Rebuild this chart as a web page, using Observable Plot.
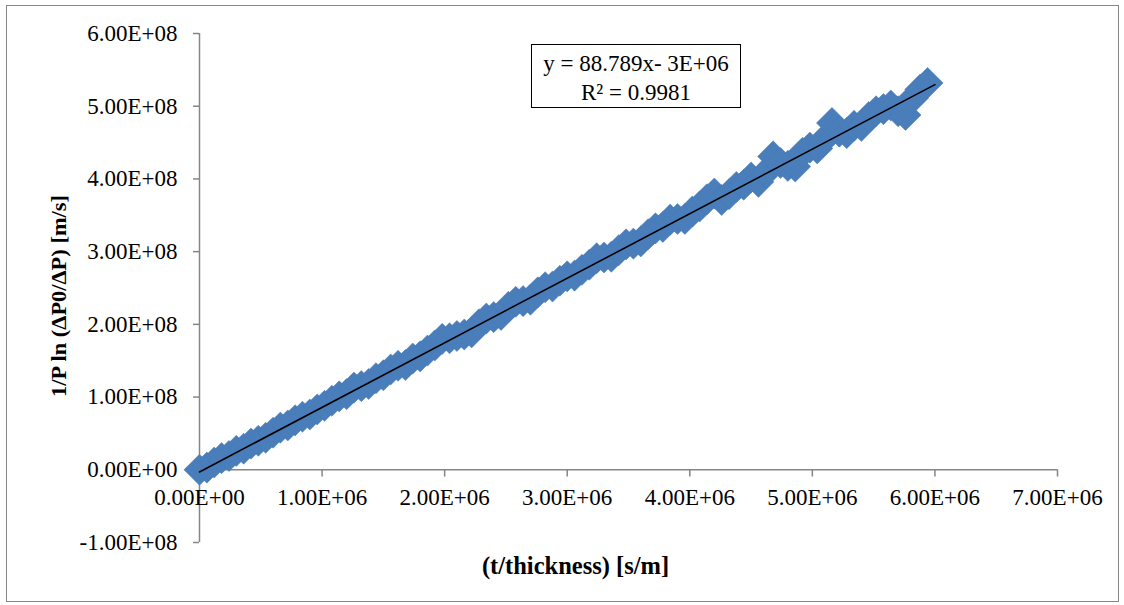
<!DOCTYPE html>
<html>
<head>
<meta charset="utf-8">
<script src="https://cdn.jsdelivr.net/npm/d3@7"></script>
<script src="https://cdn.jsdelivr.net/npm/@observablehq/plot@0.6"></script>
<style>
  html, body { margin: 0; padding: 0; background: #fff; }
  #wrap { position: relative; width: 1124px; height: 605px; font-family: "Liberation Serif", "Times New Roman", serif; }
  #outer { position: absolute; left: 6px; top: 5px; width: 1113px; height: 597px; border: 1.3px solid #878787; box-sizing: border-box; pointer-events: none; }
  #eq { position: absolute; left: 531px; top: 44px; width: 210px; height: 64px; box-sizing: border-box; border: 1.6px solid #000; background: #fff;
        font-size: 23px; line-height: 29px; text-align: center; padding-top: 4px; color: #000; }
</style>
</head>
<body>
<div id="wrap">
  <div id="outer"></div>
  <div id="chart"></div>
  <div id="eq"></div>
</div>
<script>
// ---- data ----
const tValues = [0,60000,120000,180000,240000,300000,360000,420000,480000,540000,
  600000,660000,720000,780000,840000,900000,960000,1020000,1080000,1140000,
  1200000,1260000,1320000,1380000,1440000,1500000,1560000,1620000,1680000,1740000,
  1800000,1860000,1920000,1980000,2040000,2100000,2160000,2220000,2280000,2340000,
  2400000,2460000,2520000,2580000,2640000,2700000,2760000,2820000,2880000,2940000,
  3000000,3060000,3120000,3180000,3240000,3300000,3360000,3420000,3480000,3540000,
  3600000,3660000,3720000,3780000,3840000,3900000,3960000,4020000,4080000,4140000,
  4200000,4260000,4320000,4380000,4440000,4500000,4560000,4620000,4680000,4740000,
  4800000,4860000,4920000,4980000,5040000,5100000,5160000,5220000,5280000,5340000,
  5400000,5460000,5520000,5580000,5640000,5700000,5760000,5820000,5880000,5940000];
const lnValues = [0.00e8,0.03e8,0.10e8,0.16e8,0.19e8,0.26e8,0.29e8,0.36e8,0.40e8,0.44e8,
  0.51e8,0.58e8,0.61e8,0.68e8,0.73e8,0.76e8,0.83e8,0.88e8,0.95e8,1.01e8,
  1.04e8,1.13e8,1.15e8,1.18e8,1.26e8,1.30e8,1.38e8,1.43e8,1.44e8,1.53e8,
  1.56e8,1.64e8,1.71e8,1.80e8,1.81e8,1.84e8,1.86e8,1.89e8,2.00e8,2.08e8,
  2.10e8,2.13e8,2.24e8,2.31e8,2.32e8,2.34e8,2.44e8,2.51e8,2.52e8,2.60e8,
  2.66e8,2.67e8,2.75e8,2.82e8,2.91e8,2.92e8,2.93e8,3.02e8,3.10e8,3.11e8,
  3.14e8,3.24e8,3.32e8,3.34e8,3.44e8,3.45e8,3.45e8,3.55e8,3.62e8,3.72e8,
  3.80e8,3.71e8,3.79e8,3.89e8,3.92e8,4.02e8,3.96e8,4.09e8,4.31e8,4.22e8,
  4.18e8,4.17e8,4.36e8,4.43e8,4.42e8,4.55e8,4.77e8,4.65e8,4.63e8,4.73e8,
  4.73e8,4.85e8,4.93e8,4.96e8,5.01e8,4.93e8,4.88e8,5.11e8,5.23e8,5.32e8];

const trendSlope = 88.789;
const trendIntercept = -3e6;
const trendR2 = 0.9981;
const trendXRange = [0, 6e6];

const xTicks = [0,1e6,2e6,3e6,4e6,5e6,6e6,7e6];
const xTickLabels = ["0.00E+00","1.00E+06","2.00E+06","3.00E+06","4.00E+06","5.00E+06","6.00E+06","7.00E+06"];
const yTicks = [-1e8,0,1e8,2e8,3e8,4e8,5e8,6e8];
const yTickLabels = ["-1.00E+08","0.00E+00","1.00E+08","2.00E+08","3.00E+08","4.00E+08","5.00E+08","6.00E+08"];

const xTitle = "(t/thickness) [s/m]";
const yTitle = "1/P ln (\u0394P0/\u0394P) [m/s]";

// ---- build ----
const points = tValues.map((t, i) => ({t, v: lnValues[i]}));
const trend = trendXRange.map(t => ({t, v: trendSlope * t + trendIntercept}));
const xLab = new Map(xTicks.map((d, i) => [d, xTickLabels[i]]));
const yLab = new Map(yTicks.map((d, i) => [d, yTickLabels[i]]));
const axisGray = "#868686";
const font = "Liberation Serif";

const chart = Plot.plot({
  width: 1124,
  height: 605,
  marginLeft: 199,
  marginRight: 67,
  marginTop: 33,
  marginBottom: 63,
  style: {fontFamily: font, fontSize: "23px", color: "#000", background: "transparent", overflow: "visible"},
  x: {domain: [0, 7e6], axis: null},
  y: {domain: [-1e8, 6e8], axis: null},
  marks: [
    Plot.ruleX([0], {stroke: axisGray, strokeWidth: 1.5}),
    Plot.ruleY([0], {stroke: axisGray, strokeWidth: 1.5}),
    Plot.ruleX(xTicks, {x: d => d, y1: 0, y2: -0.1e8, stroke: axisGray, strokeWidth: 1.5}),
    Plot.axisY(yTicks, {anchor: "left", label: null, tickSize: 6, tickPadding: 16, stroke: axisGray, strokeWidth: 1.5,
      fill: "#000", fontSize: 23, tickFormat: d => yLab.get(d)}),
    Plot.dot(points, {x: "t", y: "v", symbol: "diamond2", r: 14, fill: "#4A7EBB", stroke: "#4678B6", strokeWidth: 0.5}),
    Plot.line(trend, {x: "t", y: "v", stroke: "#000", strokeWidth: 1.6}),
    Plot.text(xTicks, {x: d => d, y: () => 0, text: d => xLab.get(d), dy: 28, fontSize: 23, fill: "#000", lineAnchor: "middle"}),
    Plot.text([xTitle], {frameAnchor: "bottom", text: d => d, textAnchor: "middle", lineAnchor: "middle", dx: -53, dy: 24, fontSize: 24.5, fontWeight: "bold", fill: "#000"}),
    Plot.text([yTitle], {frameAnchor: "left", text: d => d, textAnchor: "middle", lineAnchor: "middle", rotate: -90, dx: -141, dy: 8, fontSize: 22, fontWeight: "bold", fill: "#000"})
  ]
});
document.getElementById("chart").appendChild(chart);

// fit the rotated y title to the length it has in the reference
const yTitleEl = Array.from(chart.querySelectorAll("text")).find(t => t.textContent === yTitle);
if (yTitleEl) {
  yTitleEl.setAttribute("textLength", 202);
  yTitleEl.setAttribute("lengthAdjust", "spacingAndGlyphs");
}

const eq = document.getElementById("eq");
eq.innerHTML = `y = ${trendSlope}x- ${Math.abs(trendIntercept / 1e6)}E+06<br>R\u00B2 = ${trendR2}`;
</script>
</body>
</html>
